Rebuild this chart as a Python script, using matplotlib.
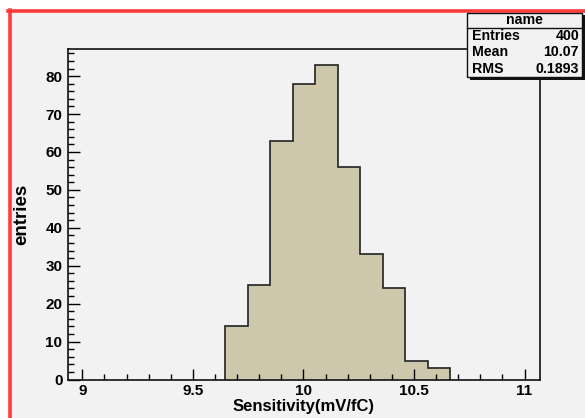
import numpy as np
import matplotlib.pyplot as plt
from matplotlib.patches import Rectangle
from matplotlib.lines import Line2D
from matplotlib.ticker import MultipleLocator

# histogram: 21 bins between xmin and xmax
xmin, xmax, nbins = 8.935, 11.07, 21
counts = [0, 0, 0, 0, 0, 0, 0, 14, 25, 63, 78, 83, 56, 33, 24, 5, 3, 0, 0, 0, 0]
x_ticks = [9, 9.5, 10, 10.5, 11]
y_ticks = [0, 10, 20, 30, 40, 50, 60, 70, 80]
stats_names = ["Entries", "Mean", "RMS"]
stats_values = ["400", "10.07", "0.1893"]

W, H = 585, 418
bg = "#f2f2f2"
fill = "#cdc8ab"
red = "#ff3b3b"


def fx(px):
    return px / W


def fy(py):
    return 1 - py / H


plt.rcParams['font.family'] = ['Liberation Sans', 'DejaVu Sans']
plt.rcParams['font.weight'] = 'bold'

fig = plt.figure(figsize=(W / 100, H / 100), dpi=100, facecolor="white")

# gray canvas inside the red highlight frame
fig.add_artist(Rectangle((fx(9.5), 0), 1 - fx(9.5), fy(10.5), transform=fig.transFigure,
                         facecolor=bg, edgecolor="none", zorder=-10))

ax = fig.add_axes([fx(68), fy(379.5), fx(540) - fx(68), fy(49) - fy(379.5)])
ax.set_facecolor(bg)

edges = np.linspace(xmin, xmax, nbins + 1)
nz = [i for i, c in enumerate(counts) if c > 0]
lo, hi = nz[0], nz[-1] + 1
ax.stairs(counts[lo:hi], edges[lo:hi + 1], fill=True, color=fill, zorder=1)
ax.stairs(counts[lo:hi], edges[lo:hi + 1], color="#222222", linewidth=1.2, zorder=2)

ax.set_xlim(xmin, xmax)
ax.set_ylim(0, max(counts) * 1.05)
ax.set_xticks(x_ticks)
ax.set_xticklabels([f"{t:g}" for t in x_ticks])
ax.set_yticks(y_ticks)
ax.xaxis.set_minor_locator(MultipleLocator(0.1))
ax.yaxis.set_minor_locator(MultipleLocator(2))
ax.tick_params(which='both', direction='in', width=1, labelsize=11, top=False, right=False)
ax.tick_params(axis='x', which='major', length=8, pad=3.5)
ax.tick_params(axis='x', which='minor', length=4)
ax.tick_params(axis='y', which='major', length=8.5, pad=4)
ax.tick_params(axis='y', which='minor', length=4.3)
for s in ax.spines.values():
    s.set_linewidth(1.2)
    s.set_color("#111111")

fig.text(fx(304), fy(407), "Sensitivity(mV/fC)", ha='center', va='center',
         fontsize=12, fontweight='bold')
fig.text(fx(22), fy(214), "entries", ha='center', va='center', rotation=90,
         fontsize=13.5, fontweight='bold')

# canvas highlight frame (left and top)
fig.add_artist(Line2D([fx(9.5), fx(9.5)], [fy(9.5), 0], color=red, linewidth=2.6,
                      transform=fig.transFigure))
fig.add_artist(Line2D([fx(8), 1], [fy(10.5), fy(10.5)], color=red, linewidth=2.6,
                      transform=fig.transFigure))

# stats box
bx0, bx1, by0, by1 = 467, 582, 13, 77
fig.add_artist(Rectangle((fx(bx0 + 2.5), fy(by1 + 2.5)), fx(bx1) - fx(bx0), fy(by0) - fy(by1),
                         transform=fig.transFigure, facecolor="#111111", edgecolor="none", zorder=5))
fig.add_artist(Rectangle((fx(bx0), fy(by1)), fx(bx1) - fx(bx0), fy(by0) - fy(by1),
                         transform=fig.transFigure, facecolor=bg, edgecolor="#111111",
                         linewidth=1, zorder=6))
fig.add_artist(Line2D([fx(bx0), fx(bx1)], [fy(28), fy(28)], color="#111111", linewidth=1,
                      transform=fig.transFigure, zorder=7))
fig.text(fx((bx0 + bx1) / 2), fy(20), "name", ha='center', va='center',
         fontsize=10.2, fontweight='bold', zorder=8)
for i, (n, v) in enumerate(zip(stats_names, stats_values)):
    yy = 36 + i * 16.5
    fig.text(fx(bx0 + 5), fy(yy), n, ha='left', va='center', fontsize=10.2,
             fontweight='bold', zorder=8)
    fig.text(fx(bx1 - 3), fy(yy), v, ha='right', va='center', fontsize=10.2,
             fontweight='bold', zorder=8)

fig.savefig("out.png", dpi=100, facecolor="white")
